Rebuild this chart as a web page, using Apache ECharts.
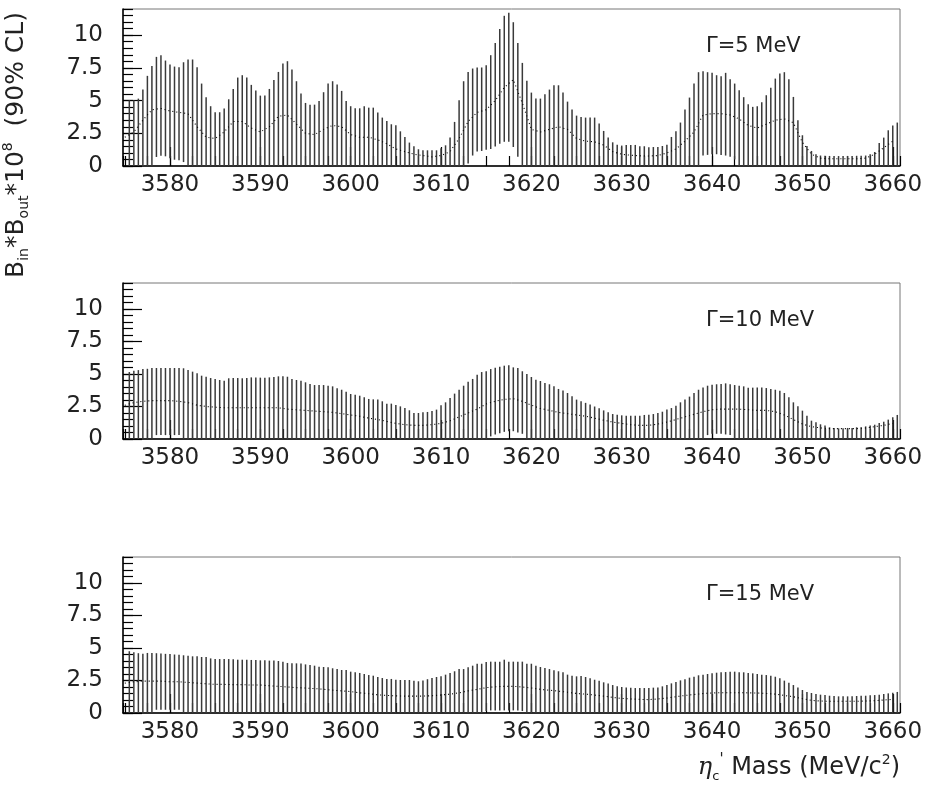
<!DOCTYPE html>
<html><head><meta charset="utf-8">
<script src="https://cdn.jsdelivr.net/npm/echarts@6/dist/echarts.min.js"></script>
<style>html,body{margin:0;padding:0;background:#fff}#c{width:936px;height:785px}</style>
</head><body><div id="c"></div><script>
// bin centres: 3575.5 ... 3660.5 MeV, 0.5 MeV apart
const massStart = 3575.5, massStep = 0.5;
const massMin = 3574.8, massMax = 3660.8;

// upper limit (top of each vertical line), Gamma = 5 MeV
const upper5 = [
5.03,5.03,5.15,5.84,6.89,7.65,8.34,8.47,8.06,7.76,
7.60,7.55,7.93,8.14,8.14,7.55,6.30,5.26,4.57,4.11,
4.11,4.39,5.10,5.89,6.76,6.94,6.76,6.20,5.77,5.38,
5.38,5.89,6.58,7.19,7.83,8.01,7.37,6.48,5.54,4.82,
4.69,4.69,4.97,5.64,6.30,6.48,6.22,5.74,4.97,4.57,
4.41,4.41,4.57,4.46,4.46,4.08,3.70,3.44,3.19,3.11,
2.65,2.22,1.79,1.51,1.28,1.20,1.20,1.20,1.20,1.35,
1.58,2.17,3.37,5.03,6.48,7.19,7.45,7.53,7.53,7.70,
8.47,9.41,10.48,11.48,11.71,10.99,9.41,7.88,6.51,5.61,
5.15,5.15,5.48,5.84,6.17,6.17,5.61,4.92,4.31,3.85,
3.75,3.70,3.70,3.70,3.24,2.68,2.17,1.81,1.63,1.56,
1.61,1.61,1.61,1.51,1.51,
1.43,
1.45,1.45,1.53,1.63,2.22,2.65,3.32,4.31,5.23,6.30,
7.17,7.24,7.17,7.12,6.94,6.86,7.12,6.63,6.30,5.79,
5.26,4.72,4.52,4.57,4.87,5.41,5.99,6.68,7.07,7.17,
6.63,5.28,3.49,2.35,1.53,1.15,0.89,0.80,0.78,0.77,
0.77,0.76,0.76,0.77,0.77,0.78,0.79,0.80,0.89,1.07,
1.76,2.17,2.73,3.09,3.32];

// Gamma = 10 MeV
const upper10 = [
5.15,5.25,5.30,5.38,5.40,5.46,5.46,5.46,5.46,5.46,
5.46,5.46,5.44,5.31,5.18,5.05,4.87,4.79,4.69,4.62,
4.54,4.49,4.67,4.69,4.69,4.67,4.69,4.74,4.74,4.72,
4.72,4.74,4.76,4.82,4.82,4.79,4.62,4.54,4.49,4.36,
4.23,4.15,4.15,4.15,4.10,4.05,3.90,3.79,3.64,3.46,
3.40,3.33,3.21,3.08,3.05,
3.03,2.90,2.72,2.72,2.62,2.51,2.38,2.21,2.00,2.00,
2.05,2.08,2.15,2.26,2.59,2.82,3.15,3.49,3.79,4.10,
4.41,4.62,4.95,5.15,5.21,5.38,5.49,5.56,5.64,5.67,
5.51,5.46,5.21,5.00,4.77,4.56,4.46,4.31,4.21,4.05,
3.85,3.74,3.54,3.28,3.03,
2.90,2.78,2.65,2.50,2.36,2.20,2.05,1.92,1.87,
1.82,1.79,1.79,1.79,1.79,1.85,1.87,1.92,2.00,2.10,
2.26,2.38,2.56,2.82,3.03,3.26,3.54,3.79,3.97,4.10,
4.18,4.21,4.23,4.28,4.21,4.15,4.10,4.05,3.95,3.95,
3.97,3.97,3.92,3.85,3.79,3.72,3.54,3.21,2.82,2.51,
2.18,1.79,1.41,1.28,1.13,1.03,0.90,0.85,0.82,0.82,
0.85,0.85,0.90,0.90,0.97,1.03,1.10,1.23,1.33,1.49,
1.67,1.85];

// Gamma = 15 MeV
const upper15 = [
4.75,4.67,4.60,4.55,4.62,4.62,4.60,4.58,4.55,4.53,
4.50,4.48,4.44,4.40,4.36,4.36,4.31,4.31,4.20,4.15,
4.15,4.15,4.15,4.13,4.10,4.10,4.10,4.08,4.08,4.05,
4.05,4.03,4.03,4.00,3.95,3.85,3.82,3.82,3.80,3.74,
3.69,3.64,3.56,3.54,3.51,3.44,3.38,3.31,3.31,3.18,
3.13,3.08,3.00,2.92,2.87,
2.77,2.69,2.62,2.62,2.56,2.54,2.54,2.54,2.49,2.44,
2.50,2.60,2.69,2.77,2.82,2.95,3.08,3.21,3.38,3.38,
3.51,3.64,3.79,3.79,3.92,3.95,3.95,3.95,4.10,3.95,
3.95,3.95,3.95,3.79,3.79,3.64,3.54,3.46,3.38,3.28,
3.21,3.13,2.95,2.87,2.82,
2.85,2.77,2.67,2.56,2.49,2.36,2.26,2.15,2.05,
2.00,1.97,1.95,1.92,1.92,1.92,1.92,1.95,1.97,2.05,
2.15,2.28,2.38,2.51,2.59,2.72,2.79,2.90,2.95,3.00,
3.05,3.10,3.13,3.15,3.18,3.18,3.13,3.13,3.08,3.05,
3.00,2.95,2.92,2.87,2.79,2.67,2.49,2.33,2.15,1.97,
1.77,1.62,1.54,1.46,1.41,1.38,1.33,1.31,1.28,1.28,
1.28,1.28,1.31,1.33,1.33,1.36,1.38,1.41,1.46,1.51,
1.56,1.62];

// lower ends of the vertical lines that do not reach zero: [mass, value]
const lower5 = [[3578.5,0.69],[3579,0.79],[3579.5,0.74],[3580,0.6],[3580.5,0.48],[3581,0.43],[3581.5,0.3],
 [3613,0.2],[3613.5,0.8],[3614,1.1],[3614.5,1.15],[3615,1.25],[3615.5,1.3],[3616,1.5],[3616.5,1.7],[3617,1.85],[3617.5,1.85],[3618,1.45],[3618.5,0.7],
 [3639,0.8],[3639.5,0.85],[3640,0.9],[3640.5,0.9],[3641,0.85],[3641.5,0.8],[3642,0.7],[3642.5,0.5]];
const lower10 = [[3578.5,0.3],[3579,0.3],[3579.5,0.3],[3580,0.3],[3580.5,0.3],[3581,0.3],
 [3615.5,0.2],[3616,0.35],[3616.5,0.45],[3617,0.55],[3617.5,0.6],[3618,0.6],[3618.5,0.5],[3619,0.4],
 [3639.5,0.3],[3640,0.4],[3640.5,0.4],[3641,0.4],[3641.5,0.35],[3642,0.3]];
const lower15 = [[3578.5,0.25],[3579,0.25],[3579.5,0.25],[3580,0.25],[3580.5,0.25],[3581,0.25],
 [3615,0.15],[3615.5,0.2],[3616,0.2],[3616.5,0.2],[3617,0.2],[3617.5,0.2],[3618,0.2],[3618.5,0.2],[3619,0.15]];

// central values (dotted line), 1 MeV apart from 3575
const centralStart = 3575, centralStep = 1;
const central5 = [
2.2,2.6,3.5,4.3,4.4,4.2,4.1,4.0,3.0,2.2,
2.1,2.6,3.4,3.4,2.9,2.6,3.0,3.8,3.9,3.2,
2.5,2.4,2.8,3.1,3.0,2.4,2.2,2.2,2.0,1.7,
1.3,1.1,0.9,0.8,0.7,0.8,1.1,2.1,3.4,4.1,
4.3,5.0,6.0,6.6,4.8,2.8,2.6,2.8,3.0,2.8,
2.1,1.9,1.85,1.6,1.1,0.9,0.82,0.78,0.76,0.8,
1.0,1.3,1.9,2.6,3.9,4.0,4.0,3.9,3.6,3.1,
2.9,3.2,3.5,3.6,3.3,1.8,0.9,0.6,0.55,0.55,
0.55,0.55,0.6,0.9,1.4,1.9];
const central10 = [
2.6,2.8,2.9,2.95,2.95,2.95,2.9,2.8,2.6,2.5,
2.45,2.4,2.4,2.4,2.4,2.4,2.4,2.4,2.3,2.25,
2.2,2.15,2.1,2.05,1.95,1.85,1.75,1.6,1.5,1.35,
1.2,1.1,1.05,1.05,1.1,1.2,1.4,1.7,2.0,2.3,
2.7,2.9,3.05,3.1,2.9,2.6,2.35,2.2,2.05,1.95,
1.85,1.75,1.6,1.45,1.3,1.2,1.1,1.05,1.05,1.15,
1.3,1.5,1.7,1.9,2.1,2.25,2.3,2.3,2.3,2.25,
2.2,2.2,2.1,1.85,1.5,1.15,0.95,0.85,0.8,0.8,
0.8,0.8,0.85,0.95,1.05,1.2];
const central15 = [
2.3,2.4,2.45,2.45,2.45,2.4,2.4,2.35,2.3,2.25,
2.2,2.2,2.18,2.18,2.15,2.15,2.1,2.05,2.0,1.95,
1.92,1.88,1.82,1.76,1.7,1.65,1.55,1.48,1.4,1.35,
1.32,1.3,1.3,1.3,1.33,1.38,1.45,1.55,1.7,1.82,
1.95,2.02,2.05,2.05,2.0,1.92,1.82,1.75,1.68,1.6,
1.5,1.45,1.38,1.3,1.2,1.12,1.08,1.05,1.03,1.08,
1.15,1.25,1.35,1.42,1.5,1.54,1.56,1.56,1.56,1.55,
1.54,1.5,1.45,1.35,1.25,1.1,0.97,0.92,0.9,0.9,
0.9,0.9,0.92,0.95,1.0,1.05];

const widthLabels = ['\u0393=5 MeV', '\u0393=10 MeV', '\u0393=15 MeV'];
const yTickInterval = 2.5, yMinorInterval = 0.5, yMax = 12;
const xMajorInterval = 10, xMinorInterval = 2.5;

const panels = [
  {upper: upper5, lower: lower5, central: central5, top: 9, height: 157},
  {upper: upper10, lower: lower10, central: central10, top: 283, height: 156},
  {upper: upper15, lower: lower15, central: central15, top: 557, height: 156}
];

const FONT = '"DejaVu Sans", sans-serif';
const TXT = '#222';

const grid = [], xAxis = [], yAxis = [], series = [], graphic = [];
panels.forEach((p, i) => {
  grid.push({left: 123, right: 36, top: p.top, height: p.height, show: true,
    borderColor: '#777', borderWidth: 1, backgroundColor: 'transparent'});
  xAxis.push({type: 'value', gridIndex: i, position: 'bottom', min: massMin, max: massMax,
    splitNumber: 8, minInterval: xMajorInterval, maxInterval: xMajorInterval,
    axisLine: {show: true, onZero: false, lineStyle: {color: '#000', width: 1.5}},
    axisTick: {show: true, inside: true, length: 19, lineStyle: {color: '#000', width: 1.2}},
    axisLabel: {show: true, showMinLabel: false, showMaxLabel: false, margin: 8,
      fontFamily: FONT, fontSize: 23, color: TXT, formatter: v => String(v)},
    splitLine: {show: false}});
  xAxis.push({type: 'value', gridIndex: i, position: 'bottom', min: massMin, max: massMax,
    splitNumber: 34, minInterval: xMinorInterval, maxInterval: xMinorInterval,
    axisLine: {show: false, onZero: false},
    axisTick: {show: true, inside: true, length: 10, lineStyle: {color: '#000', width: 1.2}},
    axisLabel: {show: false}, splitLine: {show: false}});
  yAxis.push({type: 'value', gridIndex: i, position: 'left', min: 0, max: yMax, interval: yTickInterval,
    axisLine: {show: true, onZero: false, lineStyle: {color: '#000', width: 1.5}},
    axisTick: {show: true, inside: true, length: 19, lineStyle: {color: '#000', width: 1.2}},
    axisLabel: {show: true, showMaxLabel: false, margin: 20, fontFamily: FONT, fontSize: 23, color: TXT},
    splitLine: {show: false}});
  yAxis.push({type: 'value', gridIndex: i, position: 'left', min: 0, max: yMax, interval: yMinorInterval,
    axisLine: {show: false, onZero: false},
    axisTick: {show: true, inside: true, length: 10, lineStyle: {color: '#000', width: 1.2}},
    axisLabel: {show: false}, splitLine: {show: false}});

  const lowMap = {};
  p.lower.forEach(([m, v]) => { lowMap[m.toFixed(1)] = v; });
  const bars = p.upper.map((u, k) => {
    const m = massStart + k * massStep;
    const lo = lowMap[m.toFixed(1)] || 0;
    return [m, lo, u];
  });
  series.push({type: 'custom', xAxisIndex: 2 * i, yAxisIndex: 2 * i, data: bars,
    encode: {x: 0, y: [1, 2]}, silent: true, z: 2,
    renderItem: (params, api) => {
      const a = api.coord([api.value(0), api.value(1)]);
      const b = api.coord([api.value(0), api.value(2)]);
      return {type: 'line', shape: {x1: a[0], y1: a[1], x2: b[0], y2: b[1]},
        style: {stroke: '#3a3a3a', lineWidth: 1.5}};
    }});
  series.push({type: 'line', xAxisIndex: 2 * i, yAxisIndex: 2 * i, symbol: 'none', silent: true, z: 3,
    data: p.central.map((v, k) => [centralStart + k * centralStep, v]),
    lineStyle: {color: '#000', width: 1.1, type: [1, 3]}});

  graphic.push({type: 'text', left: 706, top: p.top + 27,
    style: {text: widthLabels[i], font: '21px ' + FONT, fill: TXT}});
});

// y-axis title (vertical)
graphic.push({type: 'text', x: 16, y: 145, rotation: Math.PI / 2,
  style: {
    text: '{b|B}{s|in}{b|*B}{s|out}{b|*10}{p|8}{b|  (90% CL)}',
    align: 'center', verticalAlign: 'middle', fill: TXT,
    rich: {
      b: {fontFamily: FONT, fontSize: 25, lineHeight: 30, fill: TXT},
      s: {fontFamily: FONT, fontSize: 14, lineHeight: 14, verticalAlign: 'bottom', fill: TXT},
      p: {fontFamily: FONT, fontSize: 14, lineHeight: 14, verticalAlign: 'top', fill: TXT}
    }
  }});
// x-axis title
graphic.push({type: 'text', right: 36, top: 753,
  style: {
    text: '{e|\u03b7}{s|c}{q|\'}{b| Mass (MeV/c}{p|2}{b|)}',
    fill: TXT,
    rich: {
      e: {fontFamily: 'DejaVu Serif', fontStyle: 'italic', fontSize: 24, lineHeight: 30, fill: TXT},
      b: {fontFamily: FONT, fontSize: 24, lineHeight: 30, fill: TXT},
      s: {fontFamily: FONT, fontSize: 13, lineHeight: 13, verticalAlign: 'bottom', fill: TXT},
      q: {fontFamily: FONT, fontSize: 15, lineHeight: 15, verticalAlign: 'top', fill: TXT},
      p: {fontFamily: FONT, fontSize: 14, lineHeight: 14, verticalAlign: 'top', fill: TXT}
    }
  }});

const chart = echarts.init(document.getElementById('c'), null, {renderer: 'canvas'});
chart.setOption({animation: false, backgroundColor: '#fff', grid, xAxis, yAxis, series, graphic});
</script></body></html>
